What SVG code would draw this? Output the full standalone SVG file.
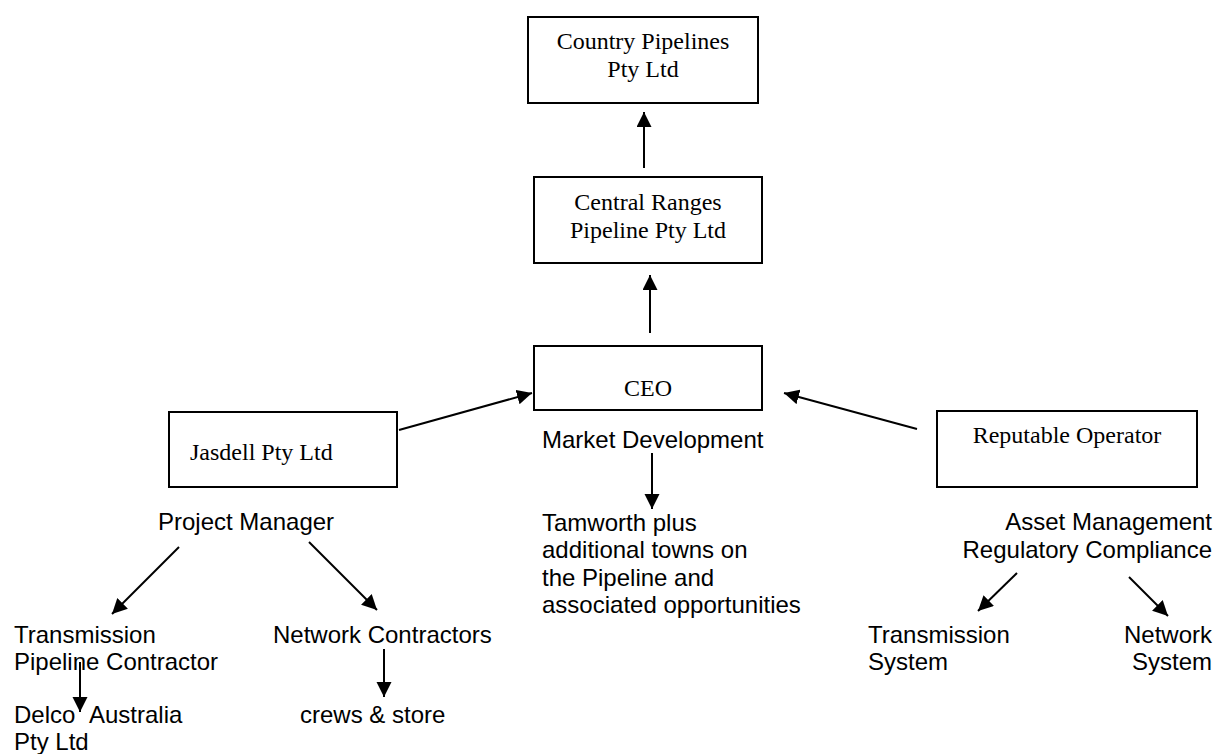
<svg xmlns="http://www.w3.org/2000/svg" width="1216" height="754" viewBox="0 0 1216 754">
<style>
.box{fill:#fff;stroke:#000;stroke-width:2}
.serif{font-family:"Liberation Serif","Times New Roman",serif;font-size:24px;fill:#000}
.sans{font-family:"Liberation Sans",Arial,sans-serif;font-size:24px;fill:#000}
.conn line{stroke:#000;stroke-width:2;marker-end:url(#ah)}
</style>
<defs>
<marker id="ah" markerUnits="userSpaceOnUse" markerWidth="16" markerHeight="16" refX="15" refY="7.5" orient="auto">
<path d="M0,0 L15,7.5 L0,15 z" fill="#000"/>
</marker>
</defs>
<rect width="1216" height="754" fill="#fff"/>
<g id="country">
<rect class="box" x="528" y="17" width="230" height="86"/>
<text class="serif" x="643" y="49" text-anchor="middle">Country Pipelines</text>
<text class="serif" x="643" y="77" text-anchor="middle">Pty Ltd</text>
</g>
<g id="central">
<rect class="box" x="534" y="177" width="228" height="86"/>
<text class="serif" x="648" y="210" text-anchor="middle">Central Ranges</text>
<text class="serif" x="648" y="238" text-anchor="middle">Pipeline Pty Ltd</text>
</g>
<g id="ceo">
<rect class="box" x="534" y="346" width="228" height="64"/>
<text class="serif" x="648" y="396" text-anchor="middle">CEO</text>
<text class="sans" x="542" y="448">Market Development</text>
</g>
<g id="tamworth">
<text class="sans" x="542" y="531">Tamworth plus</text>
<text class="sans" x="542" y="558">additional towns on</text>
<text class="sans" x="542" y="586">the Pipeline and</text>
<text class="sans" x="542" y="613">associated opportunities</text>
</g>
<g id="jasdell">
<rect class="box" x="169" y="412" width="228" height="75"/>
<text class="serif" x="190" y="460">Jasdell Pty Ltd</text>
<text class="sans" x="158" y="530">Project Manager</text>
</g>
<g id="reputable">
<rect class="box" x="937" y="411" width="260" height="76"/>
<text class="serif" x="1067" y="443" text-anchor="middle">Reputable Operator</text>
<text class="sans" x="1212" y="530" text-anchor="end">Asset Management</text>
<text class="sans" x="1212" y="558" text-anchor="end">Regulatory Compliance</text>
</g>
<g id="transmission-contractor">
<text class="sans" x="14" y="643">Transmission</text>
<text class="sans" x="14" y="670">Pipeline Contractor</text>
</g>
<g id="delco">
<text class="sans" x="14" y="723">Delco <tspan x="89">Australia</tspan></text>
<text class="sans" x="14" y="750">Pty Ltd</text>
</g>
<g id="network-contractors">
<text class="sans" x="273" y="643">Network Contractors</text>
</g>
<g id="crews">
<text class="sans" x="300" y="723">crews &amp; store</text>
</g>
<g id="transmission-system">
<text class="sans" x="868" y="643">Transmission</text>
<text class="sans" x="868" y="670">System</text>
</g>
<g id="network-system">
<text class="sans" x="1212" y="643" text-anchor="end">Network</text>
<text class="sans" x="1212" y="670" text-anchor="end">System</text>
</g>
<g id="connectors" class="conn">
<line x1="644" y1="168" x2="644" y2="112"/>
<line x1="650" y1="333" x2="650" y2="275"/>
<line x1="399" y1="430" x2="532" y2="393"/>
<line x1="917" y1="429" x2="784" y2="393"/>
<line x1="652" y1="453" x2="652" y2="509"/>
<line x1="179" y1="547" x2="112" y2="614"/>
<line x1="309" y1="542" x2="377" y2="610"/>
<line x1="80" y1="662" x2="80" y2="712"/>
<line x1="384" y1="649" x2="384" y2="697"/>
<line x1="1017" y1="573" x2="978" y2="611"/>
<line x1="1129" y1="577" x2="1168" y2="616"/>
</g>
</svg>
